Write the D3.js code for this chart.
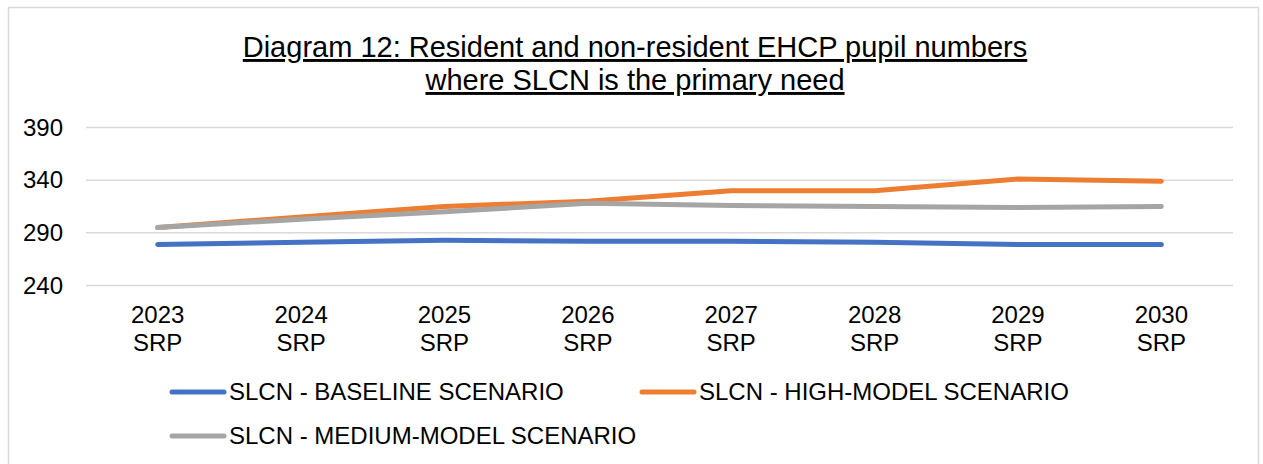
<!DOCTYPE html>
<html>
<head>
<meta charset="utf-8">
<script src="https://cdn.jsdelivr.net/npm/d3@7"></script>
<style>
    html, body { margin: 0; padding: 0; background: #fff; }
    svg text { font-family: "Liberation Sans", Arial, sans-serif; fill: #000; }
</style>
</head>
<body>
<svg id="chart" width="1263" height="464"></svg>
<script>
// 数据
var years = ["2023", "2024", "2025", "2026", "2027", "2028", "2029", "2030"];
var yTicks = [240, 290, 340, 390];
var baseline = [279, 281, 283, 282, 282, 281, 279, 279];
var highModel = [295, 305, 315, 320, 330, 330, 341, 339];
var mediumModel = [295, 303, 310, 318, 316, 315, 314, 315];
var seriesNames = ["SLCN - BASELINE SCENARIO", "SLCN - HIGH-MODEL SCENARIO", "SLCN - MEDIUM-MODEL SCENARIO"];
var colors = ["#4472C4", "#ED7D31", "#A5A5A5"];

var titleLines = ["Diagram 12: Resident and non-resident EHCP pupil numbers", "where SLCN is the primary need"];

var svg = d3.select("#chart");

// 外框
svg.append("rect")
    .attr("x", 8.5).attr("y", 7.5)
    .attr("width", 1250).attr("height", 470)
    .attr("fill", "#fff")
    .attr("stroke", "#d9d9d9")
    .attr("stroke-width", 1.5);

// 标题
var title = svg.append("text")
    .attr("text-anchor", "middle")
    .attr("font-size", 29)
    .attr("text-decoration", "underline");
title.selectAll("tspan")
    .data(titleLines)
    .enter()
    .append("tspan")
    .attr("x", 635)
    .attr("y", function (d, i) { return 57 + i * 33; })
    .text(function (d) { return d; });

var plot = {left: 86, right: 1233, top: 127.5, bottom: 285.5};

var x = d3.scaleBand().domain(years).range([plot.left, plot.right]);
var y = d3.scaleLinear().domain([240, 390]).range([plot.bottom, plot.top]);

// 网格线
svg.append("g")
    .selectAll("line")
    .data(yTicks)
    .enter()
    .append("line")
    .attr("x1", plot.left).attr("x2", plot.right)
    .attr("y1", function (d) { return y(d); })
    .attr("y2", function (d) { return y(d); })
    .attr("stroke", "#d9d9d9")
    .attr("stroke-width", 1.5);

// y轴
var yAxis = svg.append("g")
    .attr("transform", "translate(" + (plot.left - 23) + ",0)")
    .call(d3.axisLeft(y).tickValues(yTicks).tickSize(0).tickPadding(0));
yAxis.select(".domain").remove();
yAxis.selectAll("text")
    .attr("font-size", 24)
    .attr("font-family", "Liberation Sans, Arial, sans-serif")
    .attr("fill", "#000");

// x轴
var xAxis = svg.append("g")
    .attr("transform", "translate(0," + plot.bottom + ")")
    .call(d3.axisBottom(x).tickSize(0).tickFormat(""));
xAxis.select(".domain").remove();
xAxis.selectAll(".tick").each(function (d) {
    var t = d3.select(this).append("text")
        .attr("text-anchor", "middle")
        .attr("font-size", 24)
        .attr("font-family", "Liberation Sans, Arial, sans-serif")
        .attr("fill", "#000");
    t.append("tspan").attr("x", 0).attr("y", 37).text(d);
    t.append("tspan").attr("x", 0).attr("y", 65).text("SRP");
});

// 折线
var line = d3.line()
    .x(function (d, i) { return x(years[i]) + x.bandwidth() / 2; })
    .y(function (d) { return y(d); });

var allSeries = [baseline, highModel, mediumModel];
svg.append("g")
    .selectAll("path")
    .data(allSeries)
    .enter()
    .append("path")
    .attr("d", line)
    .attr("fill", "none")
    .attr("stroke", function (d, i) { return colors[i]; })
    .attr("stroke-width", 5)
    .attr("stroke-linecap", "round")
    .attr("stroke-linejoin", "round");

// 图例
var legendPos = [{x: 172, y: 392}, {x: 642, y: 392}, {x: 172, y: 436}];
var legend = svg.append("g")
    .selectAll("g")
    .data(seriesNames)
    .enter()
    .append("g")
    .attr("transform", function (d, i) { return "translate(" + legendPos[i].x + "," + legendPos[i].y + ")"; });
legend.append("line")
    .attr("x1", 0).attr("x2", 52)
    .attr("stroke", function (d, i) { return colors[i]; })
    .attr("stroke-width", 5)
    .attr("stroke-linecap", "round");
legend.append("text")
    .attr("x", 57)
    .attr("y", 8)
    .attr("font-size", 24)
    .text(function (d) { return d; });
</script>
</body>
</html>
